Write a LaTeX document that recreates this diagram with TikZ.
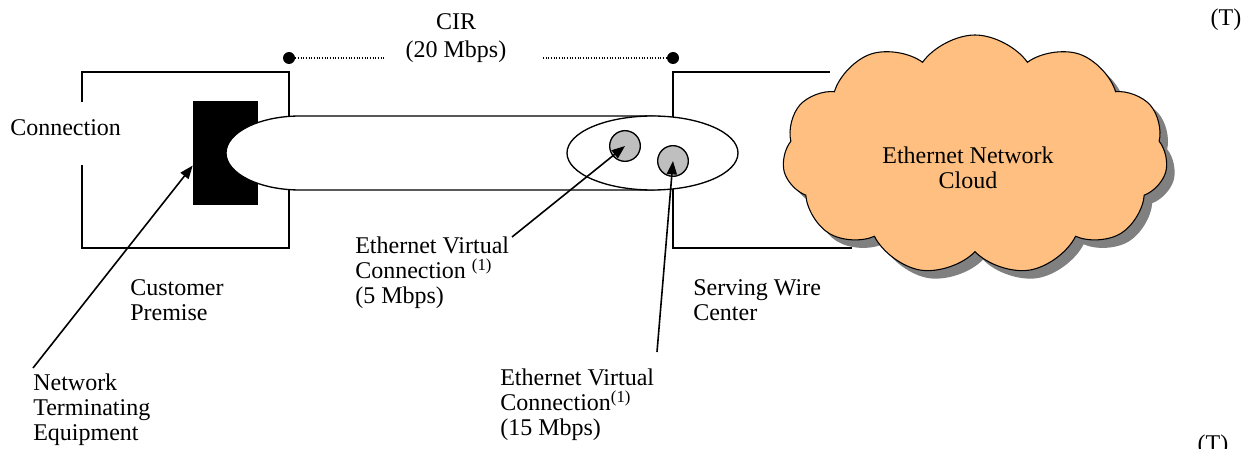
\documentclass[tikz,border=0pt]{standalone}
\usepackage{fontspec}
\setmainfont{Liberation Serif}
\usetikzlibrary{shapes.symbols,shadows,arrows.meta}
\definecolor{cloudorange}{RGB}{255,191,128}

\begin{document}
\begin{tikzpicture}[x=0.75pt,y=-0.75pt,
  font=\fontsize{18pt}{18.75pt}\selectfont,
  txt/.style={anchor=north west,inner sep=0pt,align=left},
  dot/.style={circle,fill=black,inner sep=0pt,minimum size=9pt},
  vc/.style={circle,draw,line width=1pt,fill=lightgray,inner sep=0pt,minimum size=23pt},
  arr/.style={line width=1.2pt,-{Triangle[length=10pt,width=7.5pt]}}]
\useasboundingbox (0,0) rectangle (1246,449);
% premise boxes
\draw[line width=1pt] (82,102) -- (82,72) -- (289,72) -- (289,248) -- (82,248) -- (82,165);
\draw[line width=1pt] (830,72) -- (673,72) -- (673,248) -- (852,248);
\node[fill=black,minimum width=48.75pt,minimum height=78pt,inner sep=0pt] (ntebox) at (225.5,153.5) {};
% access pipe
\draw[line width=1pt,fill=white] (300,116) -- (650,116)
  arc[start angle=-90,end angle=90,x radius=40,y radius=37] -- (300,190)
  arc[start angle=90,end angle=270,x radius=74,y radius=37] -- cycle;
\draw[line width=1pt,fill=white] (652.5,153) ellipse[x radius=85.5,y radius=37];
\node[vc] (vcA) at (625,146) {};
\node[vc] (vcB) at (673,161) {};
% CIR
\node[dot] (cirL) at (289,58) {};
\node[dot] (cirR) at (673,58) {};
\node[align=center] (cir) at (456,38) {CIR\\[2pt](20 Mbps)};
\coordinate (cirA) at (385,58);
\coordinate (cirB) at (543,58);
\draw[line width=0.8pt,dash pattern=on 0.8pt off 1.2pt] (cirL) -- (cirA);
\draw[line width=0.8pt,dash pattern=on 0.8pt off 1.2pt] (cirB) -- (cirR);
% cloud
\node[cloud,cloud puffs=11,cloud puff arc=110,aspect=1.6,draw,line width=0.8pt,fill=cloudorange,
  drop shadow={shadow xshift=6pt,shadow yshift=-6pt,fill=black!50,opacity=1},
  minimum width=289pt,minimum height=180pt] (cloud) at (975,155) {};
\node[align=center] (cloudtxt) at (968,168) {Ethernet Network\\Cloud};
% labels
\node[txt] (conn) at (10,119) {Connection};
\node[txt] (cust) at (130,279) {Customer\\Premise};
\node[txt] (nte) at (33,374) {Network\\Terminating\\Equipment};
\node[txt] (evcA) at (355,237) {Ethernet Virtual\\Connection \textsuperscript{(1)}\\(5 Mbps)};
\node[txt] (swc) at (693,279) {Serving Wire\\Center};
\node[txt] (evcB) at (500,369) {Ethernet Virtual\\Connection\textsuperscript{(1)}\\(15 Mbps)};
\node (tA) at (1226,20) {(T)};
\node (tB) at (1213,446) {(T)};
% arrows
\coordinate (nteA) at (33,368);
\coordinate (evcBtop) at (657,352);
\draw[arr] (nteA) -- ([yshift=-9pt]ntebox.west);
\draw[arr] ([xshift=2pt]evcA.north east) -- (vcA.center);
\draw[arr] (evcBtop) -- (vcB.center);
\end{tikzpicture}
\end{document}
